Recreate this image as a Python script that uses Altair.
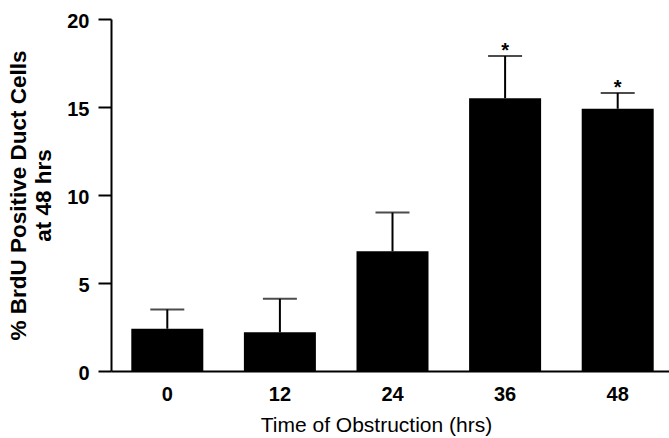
import altair as alt
import pandas as pd

times = ["0", "12", "24", "36", "48"]
means = [2.4, 2.2, 6.8, 15.5, 14.9]
sems = [1.1, 1.9, 2.2, 2.4, 0.9]
stars = ["", "", "", "*", "*"]
y_ticks = [0, 5, 10, 15, 20]

df = pd.DataFrame({"time": times, "mean": means, "sem": sems, "star": stars})
df["upper"] = df["mean"] + df["sem"]

FONT = "Liberation Sans"

x_axis = alt.Axis(
    title="Time of Obstruction (hrs)", labelAngle=0, ticks=False, tickSize=0,
    labelPadding=13, labelFont=FONT, labelFontSize=20, labelFontWeight="bold",
    labelColor="black", titleFont=FONT, titleFontSize=21, titleFontWeight="normal",
    titleColor="black", titleX=265, titleY=60, titleAlign="center",
    titleBaseline="alphabetic", titleAngle=0, domainColor="black", domainWidth=2,
    grid=False,
)
x_scale = alt.Scale(range=[0, 563], paddingInner=0, paddingOuter=0)

y_axis = alt.Axis(
    values=y_ticks, title=["% BrdU Positive Duct Cells", "at 48 hrs"],
    tickSize=13, tickWidth=2, tickColor="black", labelPadding=9,
    labelFont=FONT, labelFontSize=20, labelFontWeight="bold", labelColor="black",
    labelOffset=2,
    titleFont=FONT, titleFontSize=22.5, titleFontWeight="bold", titleColor="black",
    titleX=-86, titleY=176, titleAlign="center", titleBaseline="alphabetic",
    titleAngle=270, titleLineHeight=25, domainColor="black", domainWidth=2,
    grid=False,
)
y_scale = alt.Scale(domain=[0, 20], nice=False)


def X():
    return alt.X("time:N", sort=times, scale=x_scale, axis=x_axis)


def Y(field):
    return alt.Y(f"{field}:Q", scale=y_scale, axis=y_axis)


base = alt.Chart(df)

bars = base.mark_bar(color="black", size=72).encode(x=X(), y=Y("mean"))
err = base.mark_rule(color="black", strokeWidth=2).encode(
    x=X(), y=Y("mean"), y2="upper:Q"
)
caps = base.mark_tick(color="black", size=34, thickness=2, orient="horizontal").encode(
    x=X(), y=Y("upper")
)
star_text = base.mark_text(
    font=FONT, fontSize=20, fontWeight="bold", color="black",
    baseline="alphabetic", dy=1,
).encode(x=X(), y=Y("upper"), text="star:N")

chart = (
    alt.layer(bars, err, caps, star_text)
    .properties(
        width=558, height=352,
        autosize=alt.AutoSizeParams(type="none"),
        padding={"left": 111, "top": 19, "right": 0, "bottom": 67},
        background="white",
    )
    .configure_view(stroke=None)
)

chart.save("out.html", embed_options={"renderer": "svg", "actions": False})
